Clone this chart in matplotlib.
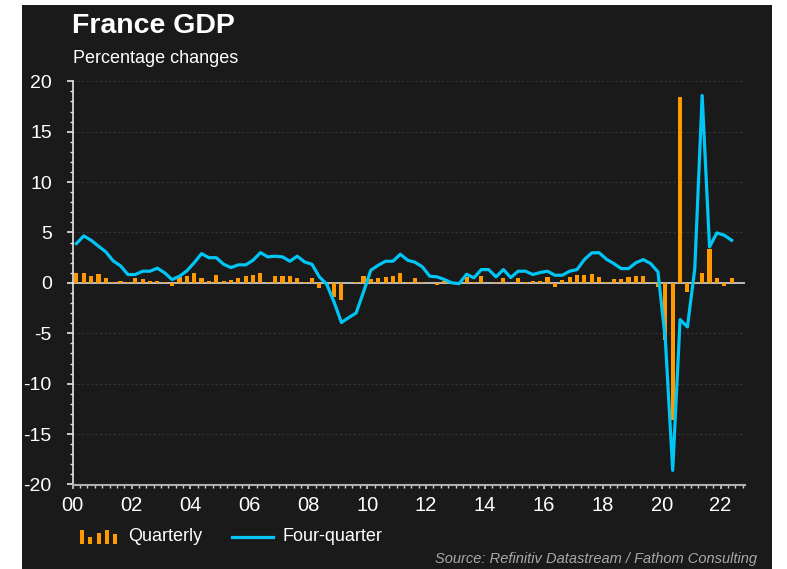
import matplotlib
matplotlib.use("Agg")
import matplotlib.pyplot as plt
from matplotlib.patches import Rectangle
from matplotlib.lines import Line2D
from matplotlib.ticker import MultipleLocator, FuncFormatter
import numpy as np
import pandas as pd

# quarter-on-quarter growth, 2000Q1 .. 2022Q2
quarterly = [1.0, 1.0, 0.66, 0.86, 0.5, 0.1, 0.17, 0.05, 0.46, 0.36,
             0.2, 0.17, 0.07, -0.3, 0.56, 0.66, 1.0, 0.5, 0.2, 0.8,
             0.2, 0.3, 0.5, 0.7, 0.8, 1.0, 0.1, 0.7, 0.7, 0.73,
             0.5, 0.13, 0.5, -0.53, -0.23, -1.42, -1.72, -0.02, 0.1, 0.73,
             0.4, 0.53, 0.6, 0.73, 1.0, 0.07, 0.5, 0.13, 0.02, -0.17,
             0.23, 0.02, -0.02, 0.63, 0.07, 0.73, 0.02, 0.1, 0.53, 0.02,
             0.53, 0.13, 0.17, 0.17, 0.56, -0.4, 0.26, 0.56, 0.76, 0.76,
             0.86, 0.56, 0.1, 0.36, 0.36, 0.6, 0.66, 0.66, 0.05, -0.4,
             -5.7, -13.6, 18.4, -0.9, 0.1, 1.0, 3.35, 0.47, -0.3, 0.47]

# growth over four quarters
four_quarter = [3.9, 4.66, 4.23, 3.64, 3.08, 2.18, 1.69, 0.83, 0.83, 1.16,
                1.16, 1.46, 0.99, 0.33, 0.66, 1.19, 2.0, 2.9, 2.5, 2.5,
                1.85, 1.52, 1.79, 1.79, 2.25, 3.0, 2.58, 2.65, 2.58, 2.15,
                2.65, 2.08, 1.85, 0.6, -0.13, -1.9, -3.93, -3.44, -2.98, -0.9,
                1.26, 1.75, 2.15, 2.15, 2.84, 2.25, 2.05, 1.59, 0.66, 0.6,
                0.33, 0.0, -0.07, 0.86, 0.5, 1.32, 1.32, 0.6, 1.32, 0.53,
                1.16, 1.16, 0.83, 1.03, 1.16, 0.76, 0.76, 1.16, 1.32, 2.31,
                2.98, 3.0, 2.35, 1.92, 1.42, 1.42, 2.0, 2.31, 1.92, 1.09,
                -5.6, -18.6, -3.64, -4.37, 1.42, 18.6, 3.57, 4.96, 4.73, 4.23]

periods = pd.period_range("2000Q1", periods=len(quarterly), freq="Q")
# plot each quarter at its mid point, in decimal years
x = np.array([p.year + (p.quarter - 1) / 4 + 0.125 for p in periods])

BG = "#1a1a1a"
ORANGE = "#ff9900"
CYAN = "#00c6f5"
W, H = 787, 569

plt.rcParams["font.family"] = ["Liberation Sans", "DejaVu Sans"]
plt.rcParams["axes.unicode_minus"] = False

fig = plt.figure(figsize=(W / 100, H / 100), dpi=100)
fig.patch.set_facecolor("white")

def fxy(px, py):
    return px / W, 1 - py / H

# dark panel
fig.add_artist(Rectangle(fxy(22, 569), 750 / W, 564 / H, transform=fig.transFigure,
                         facecolor=BG, edgecolor="none", zorder=0))

ax = fig.add_axes([72.7 / W, 1 - 485 / H, (745 - 72.7) / W, (485 - 81.3) / H])
ax.set_facecolor(BG)

ax.bar(x, quarterly, width=0.14, color=ORANGE, zorder=3)
ax.plot(x, four_quarter, color=CYAN, lw=2.3, zorder=4, solid_joinstyle="round")
ax.axhline(0, color="#c8c8c8", lw=1.3, zorder=2)

ax.set_xlim(2000, 2022.83)
ax.set_ylim(-20.05, 20)

ax.yaxis.set_major_locator(MultipleLocator(5))
ax.yaxis.set_minor_locator(MultipleLocator(1))
ax.xaxis.set_major_locator(MultipleLocator(2))
ax.xaxis.set_minor_locator(MultipleLocator(0.25))
ax.xaxis.set_major_formatter(FuncFormatter(lambda v, p: f"{int(v) % 100:02d}"))

ax.grid(axis="y", which="major", color="#353535", lw=0.8, ls=(0, (2, 2)), zorder=1)

for s in ["top", "right"]:
    ax.spines[s].set_visible(False)
ax.spines["left"].set_color("#e6e6e6")
ax.spines["bottom"].set_color("#b0b0b0")
ax.spines["left"].set_linewidth(1.2)
ax.spines["bottom"].set_linewidth(1.5)

ax.tick_params(axis="y", which="major", direction="out", length=4, width=1.2,
               colors="#e6e6e6", labelcolor="white", labelsize=14, pad=11)
ax.tick_params(axis="y", which="minor", direction="out", length=2.2, width=1,
               colors="#e6e6e6")
ax.tick_params(axis="x", which="major", direction="out", length=3, width=1.2,
               colors="#d0d0d0", labelcolor="white", labelsize=14.5, pad=5)
ax.tick_params(axis="x", which="minor", direction="out", length=2, width=1,
               colors="#d0d0d0")

# titles
fig.text(*fxy(72, 32.7), "France GDP", color="white", fontsize=20.5,
         fontweight="bold", va="baseline", ha="left")
fig.text(*fxy(73, 63.3), "Percentage changes", color="white", fontsize=13,
         va="baseline", ha="left")

# legend
icon_heights = [14, 7, 11, 14, 10]
for i, h in enumerate(icon_heights):
    x0 = 80 + i * 8.3
    fig.add_artist(Rectangle(fxy(x0, 544), 4 / W, h / H, transform=fig.transFigure,
                             facecolor=ORANGE, edgecolor="none"))
fig.text(*fxy(128, 541), "Quarterly", color="white", fontsize=13, va="baseline")
fig.add_artist(Line2D([232 / W, 273 / W], [1 - 537 / H, 1 - 537 / H],
                      transform=fig.transFigure, color=CYAN, lw=2.3))
fig.text(*fxy(282, 541), "Four-quarter", color="white", fontsize=13, va="baseline")

fig.text(*fxy(757, 563), "Source: Refinitiv Datastream / Fathom Consulting",
         color="#a8a8a8", fontsize=10.5, style="italic", ha="right", va="baseline")

fig.savefig("out.png", dpi=100, facecolor=fig.get_facecolor())
